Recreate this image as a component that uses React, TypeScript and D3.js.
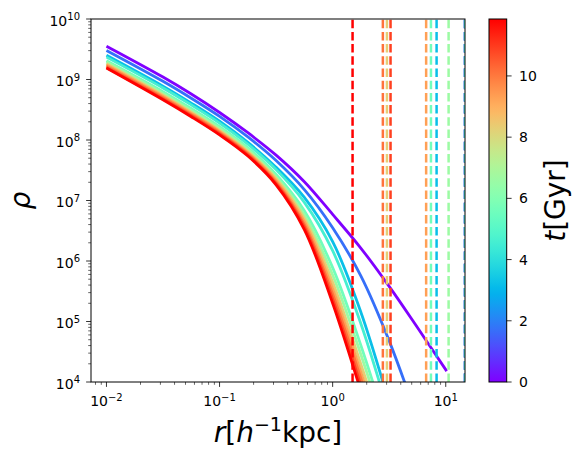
import React, { useEffect, useRef } from "react"
import * as d3 from "d3"

// radius grid (h^-1 kpc) the curves were read on
const radius = [0.01, 0.0316, 0.0562, 0.1, 0.178, 0.316, 0.562, 1, 1.78, 3.16, 5.62, 10.2]

// snapshot times in Gyr, one curve each
const times = [0, 1.7, 3.2, 4.6, 5.6, 6.6, 8.3, 9.3, 10.1, 10.9, 11.86]

// log10(rho) of every curve on the radius grid
const logRho0 = [9.55, 9.04, 8.76, 8.455, 8.12, 7.75, 7.31, 6.77, 6.21, 5.58, 4.9, 4.18]
const logRho1 = [9.48, 8.97, 8.69, 8.39, 8.05, 7.66, 7.18, 6.55, 5.75, 4.68, 3.4, 2.0]
const logRho2 = [9.4, 8.89, 8.61, 8.31, 7.96, 7.55, 7.05, 6.32, 5.15, 3.65, 2.0, 0.5]
const logRho3 = [9.37, 8.86, 8.58, 8.28, 7.93, 7.51, 6.97, 6.17, 4.96, 3.46, 1.85, 0.43]
const logRho4 = [9.31, 8.8, 8.52, 8.22, 7.87, 7.43, 6.83, 5.89, 4.6, 3.13, 1.58, 0.29]
const logRho5 = [9.29, 8.77, 8.49, 8.19, 7.84, 7.39, 6.76, 5.77, 4.45, 2.98, 1.46, 0.23]
const logRho6 = [9.26, 8.74, 8.46, 8.16, 7.81, 7.36, 6.7, 5.65, 4.29, 2.83, 1.34, 0.17]
const logRho7 = [9.24, 8.72, 8.44, 8.14, 7.79, 7.33, 6.65, 5.54, 4.16, 2.7, 1.24, 0.12]
const logRho8 = [9.22, 8.7, 8.42, 8.12, 7.77, 7.3, 6.6, 5.45, 4.05, 2.59, 1.15, 0.08]
const logRho9 = [9.2, 8.68, 8.4, 8.1, 7.75, 7.28, 6.56, 5.37, 3.94, 2.49, 1.07, 0.04]
const logRho10 = [9.19, 8.665, 8.385, 8.085, 7.735, 7.26, 6.52, 5.3, 3.85, 2.4, 1.0, 0.0]
const profiles = [logRho0, logRho1, logRho2, logRho3, logRho4, logRho5, logRho6, logRho7, logRho8, logRho9, logRho10]

// dashed vertical marker per snapshot (h^-1 kpc)
const markRadius = [14.8, 14.8, 8.3, 14.8, 7.4, 10.6, 3.02, 6.71, 2.78, 3.25, 1.5]

const yTicks = [1e4, 1e5, 1e6, 1e7, 1e8, 1e9, 1e10]
const xTicks = [0.01, 0.1, 1, 10]
const cbTicks = [0, 2, 4, 6, 8, 10]
const tMax = 11.86

// matplotlib "rainbow"
function rainbow(v) {
    const r = Math.min(1, Math.abs(2 * v - 0.5))
    const g = Math.sin(Math.PI * v)
    const b = Math.cos(Math.PI * v / 2)
    return d3.rgb(r * 255, g * 255, b * 255).formatHex()
}

function sup(n) {
    return String(n).replace("-", "\u2212")
}

export default function App() {
    const ref = useRef(null)

    useEffect(() => {
        const svg = d3.select(ref.current)
        svg.selectAll("*").remove()

        const margin = { top: 19, right: 465, bottom: 382, left: 91 }
        const font = "DejaVu Sans, sans-serif"

        const x = d3.scaleLog().domain([0.0073, 14.8]).range([margin.left, margin.right])
        const y = d3.scaleLog().domain([1e4, 1e10]).range([margin.bottom, margin.top])
        const color = t => rainbow(t / tMax)

        svg.append("rect").attr("width", 585).attr("height", 461).attr("fill", "white")

        svg.append("clipPath").attr("id", "plot-clip")
            .append("rect")
            .attr("x", margin.left).attr("y", margin.top)
            .attr("width", margin.right - margin.left)
            .attr("height", margin.bottom - margin.top)

        const plot = svg.append("g").attr("clip-path", "url(#plot-clip)")

        const line = d3.line()
            .x(d => x(d[0]))
            .y(d => y(Math.pow(10, d[1])))
            .curve(d3.curveCatmullRom.alpha(0.5))

        profiles.forEach((p, i) => {
            plot.append("path")
                .datum(p.map((v, j) => [radius[j], v]))
                .attr("fill", "none")
                .attr("stroke", color(times[i]))
                .attr("stroke-width", 2.8)
                .attr("d", line)
        })

        markRadius.forEach((r, i) => {
            plot.append("line")
                .attr("x1", x(r)).attr("x2", x(r))
                .attr("y1", margin.bottom).attr("y2", margin.top)
                .attr("stroke", color(times[i]))
                .attr("stroke-width", 2.5)
                .attr("stroke-dasharray", "8.5,3.7")
        })

        // ticks
        const axis = svg.append("g").attr("stroke", "black").attr("stroke-width", 0.8)
        const yMinor = []
        for (let e = 4; e < 10; e++) for (let k = 2; k < 10; k++) yMinor.push(k * Math.pow(10, e))
        yMinor.forEach(v => {
            axis.append("line").attr("x1", margin.left - 2.8).attr("x2", margin.left)
                .attr("y1", y(v)).attr("y2", y(v)).attr("stroke-width", 0.6)
        })
        yTicks.forEach(v => {
            axis.append("line").attr("x1", margin.left - 4.9).attr("x2", margin.left)
                .attr("y1", y(v)).attr("y2", y(v))
        })
        const xMinor = []
        for (let e = -3; e < 2; e++) for (let k = 2; k < 10; k++) {
            const v = k * Math.pow(10, e)
            if (v >= 0.0073 && v <= 14.8) xMinor.push(v)
        }
        xMinor.forEach(v => {
            axis.append("line").attr("x1", x(v)).attr("x2", x(v))
                .attr("y1", margin.bottom).attr("y2", margin.bottom + 2.8).attr("stroke-width", 0.6)
        })
        xTicks.forEach(v => {
            axis.append("line").attr("x1", x(v)).attr("x2", x(v))
                .attr("y1", margin.bottom).attr("y2", margin.bottom + 4.9)
        })

        // tick labels
        yTicks.forEach(v => {
            const t = svg.append("text").attr("x", 80).attr("y", y(v) + 6.5)
                .attr("text-anchor", "end").attr("font-family", font).attr("font-size", 14)
            t.append("tspan").text("10")
            t.append("tspan").attr("font-size", 10).attr("dy", -5.5).text(sup(Math.round(Math.log10(v))))
        })
        xTicks.forEach(v => {
            const t = svg.append("text").attr("x", x(v)).attr("y", 406)
                .attr("text-anchor", "middle").attr("font-family", font).attr("font-size", 14)
            t.append("tspan").text("10")
            t.append("tspan").attr("font-size", 10).attr("dy", -5.5).text(sup(Math.round(Math.log10(v))))
        })

        // frame
        svg.append("rect")
            .attr("x", margin.left).attr("y", margin.top)
            .attr("width", margin.right - margin.left).attr("height", margin.bottom - margin.top)
            .attr("fill", "none").attr("stroke", "black").attr("stroke-width", 1)

        // axis labels
        const xl = svg.append("text").attr("x", (margin.left + margin.right) / 2).attr("y", 442)
            .attr("text-anchor", "middle").attr("font-family", font).attr("font-size", 28)
        xl.append("tspan").attr("font-style", "italic").text("r")
        xl.append("tspan").text("[")
        xl.append("tspan").attr("font-style", "italic").text("h")
        xl.append("tspan").attr("font-size", 19).attr("dy", -11).text("\u22121")
        xl.append("tspan").attr("dy", 11).text("kpc]")

        svg.append("text")
            .attr("transform", `translate(30,${(margin.top + margin.bottom) / 2}) rotate(-90)`)
            .attr("text-anchor", "middle").attr("font-family", font).attr("font-size", 28)
            .attr("font-style", "italic").text("\u03c1")

        // colorbar
        const cb = { x0: 489, x1: 506.7 }
        const cy = d3.scaleLinear().domain([0, tMax]).range([margin.bottom, margin.top])
        const grad = svg.append("defs").append("linearGradient").attr("id", "cb-grad")
            .attr("x1", 0).attr("y1", 1).attr("x2", 0).attr("y2", 0)
        d3.range(0, 1.0001, 0.02).forEach(s => {
            grad.append("stop").attr("offset", s).attr("stop-color", rainbow(s))
        })
        svg.append("rect")
            .attr("x", cb.x0).attr("y", margin.top)
            .attr("width", cb.x1 - cb.x0).attr("height", margin.bottom - margin.top)
            .attr("fill", "url(#cb-grad)").attr("stroke", "black").attr("stroke-width", 1)
        cbTicks.forEach(v => {
            svg.append("line").attr("x1", cb.x1).attr("x2", cb.x1 + 4.9)
                .attr("y1", cy(v)).attr("y2", cy(v)).attr("stroke", "black").attr("stroke-width", 0.8)
            svg.append("text").attr("x", 519).attr("y", cy(v) + 5)
                .attr("font-family", font).attr("font-size", 14).text(v)
        })
        const cl = svg.append("text")
            .attr("transform", `translate(565,${(margin.top + margin.bottom) / 2}) rotate(-90)`)
            .attr("text-anchor", "middle").attr("font-family", font).attr("font-size", 28)
        cl.append("tspan").attr("font-style", "italic").text("t")
        cl.append("tspan").text("[Gyr]")
    }, [])

    return <svg ref={ref} width={585} height={461} style={{ position: "absolute", left: 0, top: 0, display: "block" }} />
}
